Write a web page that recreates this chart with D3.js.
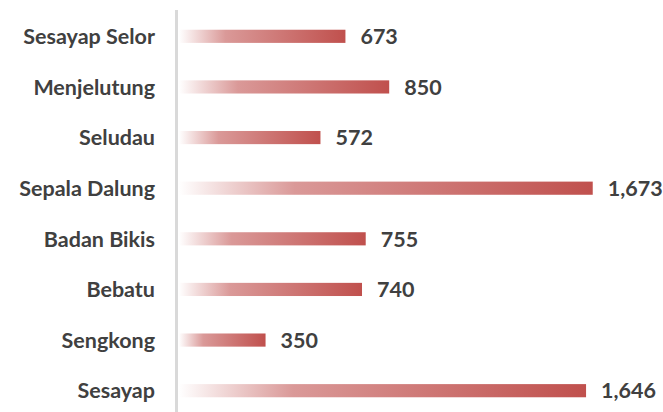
<!DOCTYPE html>
<html><head><meta charset="utf-8">
<script src="https://cdn.jsdelivr.net/npm/d3@7"></script>
<style>body{margin:0;background:#fff}svg{display:block}</style>
</head><body>
<script>
const categories = ["Sesayap Selor","Menjelutung","Seludau","Sepala Dalung","Badan Bikis","Bebatu","Sengkong","Sesayap"];
const values = [673,850,572,1673,755,740,350,1646];

const W=663,H=412;
const svg=d3.select("body").append("svg").attr("width",W).attr("height",H);
const defs=svg.append("defs");
const g=defs.append("linearGradient").attr("id","grad").attr("x1","0").attr("x2","1").attr("y1","0").attr("y2","0");
g.append("stop").attr("offset","0").attr("stop-color","#ffffff");
g.append("stop").attr("offset","0.28").attr("stop-color","#da9998");
g.append("stop").attr("offset","1").attr("stop-color","#c0504d");

const x=d3.scaleLinear().domain([0,1800]).range([179,179+1800*0.2473]);
const y=d3.scaleBand().domain(categories).range([11,416]).paddingInner(0.74).paddingOuter(0.37);

svg.append("line").attr("x1",176.5).attr("x2",176.5).attr("y1",10).attr("y2",H).attr("stroke","#d9d9d9").attr("stroke-width",3);

svg.selectAll("rect.bar").data(values).join("rect").attr("class","bar")
 .attr("x",x(0)).attr("y",(d,i)=>y(categories[i]))
 .attr("width",d=>x(d)-x(0)).attr("height",y.bandwidth()).attr("fill","url(#grad)");

const font="Lato, 'Open Sans', sans-serif";
svg.selectAll("text.cat").data(categories).join("text").attr("class","cat")
 .attr("x",155).attr("y",d=>y(d)+y.bandwidth()/2).attr("dy","0.36em")
 .attr("text-anchor","end").attr("font-family",font).attr("font-weight","bold")
 .attr("font-size",21.5).attr("fill","#404040").text(d=>d);

const fmt=d3.format(",");
svg.selectAll("text.val").data(values).join("text").attr("class","val")
 .attr("x",d=>x(d)+15).attr("y",(d,i)=>y(categories[i])+y.bandwidth()/2).attr("dy","0.36em")
 .attr("font-family",font).attr("font-weight","bold")
 .attr("font-size",21.5).attr("fill","#404040").text(d=>fmt(d));
</script>
</body></html>
